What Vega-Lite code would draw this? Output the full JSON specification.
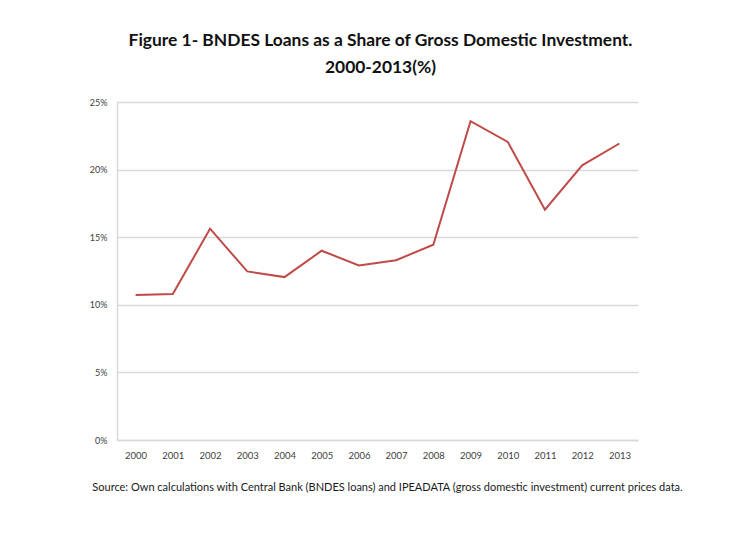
{
  "$schema": "https://vega.github.io/schema/vega-lite/v6.json",
  "autosize": {"type": "none"},
  "width": 521,
  "height": 338,
  "padding": {"left": 117, "top": 102, "right": 92, "bottom": 93},
  "background": "white",
  "title": {
    "text": ["Figure 1- BNDES Loans as a Share of Gross Domestic Investment.", "2000-2013(%)"],
    "font": "Lato",
    "fontSize": 17.4,
    "fontWeight": "bold",
    "color": "#111111",
    "lineHeight": 27,
    "anchor": "middle",
    "dx": 3,
    "offset": 22
  },
  "data": {
    "values": [
      {"year": "2000", "share": 10.72},
      {"year": "2001", "share": 10.79},
      {"year": "2002", "share": 15.63},
      {"year": "2003", "share": 12.47},
      {"year": "2004", "share": 12.05},
      {"year": "2005", "share": 14.0},
      {"year": "2006", "share": 12.91},
      {"year": "2007", "share": 13.3},
      {"year": "2008", "share": 14.44},
      {"year": "2009", "share": 23.58},
      {"year": "2010", "share": 22.05},
      {"year": "2011", "share": 17.04},
      {"year": "2012", "share": 20.32},
      {"year": "2013", "share": 21.93}
    ]
  },
  "mark": {"type": "line", "color": "#bf4b48", "strokeWidth": 2},
  "encoding": {
    "x": {
      "field": "year",
      "type": "ordinal",
      "scale": {"type": "point", "padding": 0.5},
      "axis": {
        "title": "Source: Own calculations with Central Bank (BNDES loans)  and IPEADATA (gross domestic investment) current prices data.",
        "titleFont": "Lato",
        "titleFontSize": 11,
        "titleFontWeight": "normal",
        "titleColor": "#1a1a1a",
        "titlePadding": 22,
        "titleX": 270,
        "labelAngle": 0,
        "labelFont": "Lato",
        "labelFontSize": 9.5,
        "labelColor": "#404040",
        "labelPadding": 10,
        "ticks": false,
        "domainColor": "#d9d9d9",
        "domainWidth": 1.5,
        "grid": false
      }
    },
    "y": {
      "field": "share",
      "type": "quantitative",
      "scale": {"domain": [0, 25]},
      "axis": {
        "title": null,
        "values": [0, 5, 10, 15, 20, 25],
        "labelExpr": "datum.value + '%'",
        "labelFont": "Lato",
        "labelFontSize": 9,
        "labelColor": "#404040",
        "labelPadding": 10,
        "ticks": false,
        "domainColor": "#d9d9d9",
        "domainWidth": 1.5,
        "gridColor": "#d9d9d9",
        "gridWidth": 1.5
      }
    }
  },
  "config": {"view": {"stroke": null}}
}
